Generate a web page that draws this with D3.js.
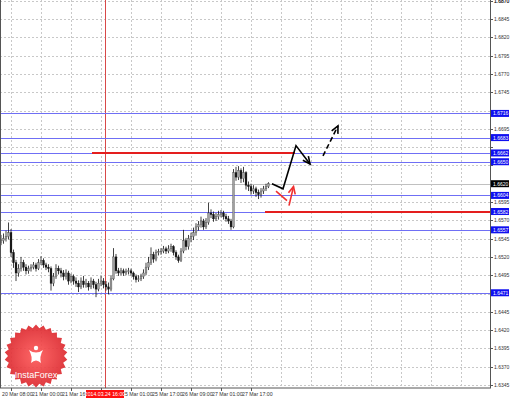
<!DOCTYPE html>
<html>
<head>
<meta charset="utf-8">
<script src="https://cdn.jsdelivr.net/npm/d3@7"></script>
<style>
  body { margin: 0; background: #fff; }
  svg { display: block; font-family: "Liberation Sans", Arial, sans-serif; }
</style>
</head>
<body>
<div id="chart"></div>
<script>
// GBPUSD H1 closes / highs / lows (open = previous close)
var firstOpen = 1.6540;
var closes = [1.6542,1.6545,1.6548,1.6553,1.6526,1.6512,1.6498,1.6504,1.6512,1.6506,
  1.6501,1.6504,1.6506,1.6509,1.6504,1.6512,1.6515,1.6509,1.6506,1.6504,
  1.6484,1.6493,1.6504,1.6501,1.6498,1.6493,1.6498,1.6487,1.6493,1.6487,
  1.6484,1.6479,1.6487,1.6482,1.6484,1.6479,1.6487,1.6482,1.6476,1.6484,
  1.6487,1.6482,1.6479,1.6476,1.6490,1.6520,1.6501,1.6498,1.6501,1.6498,
  1.6500,1.6501,1.6498,1.6493,1.6489,1.6490,1.6493,1.6498,1.6506,1.6512,
  1.6523,1.6517,1.6526,1.6527,1.6528,1.6531,1.6528,1.6531,1.6534,1.6526,
  1.6520,1.6515,1.6528,1.6542,1.6534,1.6545,1.6548,1.6553,1.6561,1.6564,
  1.6569,1.6561,1.6567,1.6580,1.6578,1.6572,1.6575,1.6578,1.6580,1.6575,
  1.6572,1.6569,1.6561,1.6635,1.6629,1.6638,1.6627,1.6635,1.6618,1.6616,
  1.6610,1.6613,1.6608,1.6605,1.6610,1.6613,1.6616,1.6620];
var highs = [1.6550,1.6552,1.6556,1.6567,1.6558,1.6530,1.6516,1.6510,1.6520,1.6516,
  1.6510,1.6508,1.6510,1.6513,1.6512,1.6517,1.6521,1.6518,1.6512,1.6510,
  1.6507,1.6498,1.6510,1.6508,1.6505,1.6502,1.6503,1.6501,1.6497,1.6496,
  1.6492,1.6488,1.6492,1.6494,1.6490,1.6487,1.6492,1.6490,1.6486,1.6490,
  1.6494,1.6491,1.6487,1.6485,1.6495,1.6532,1.6524,1.6505,1.6505,1.6504,
  1.6504,1.6505,1.6504,1.6500,1.6496,1.6495,1.6497,1.6503,1.6512,1.6520,
  1.6533,1.6527,1.6530,1.6531,1.6532,1.6535,1.6534,1.6536,1.6538,1.6536,
  1.6529,1.6523,1.6532,1.6557,1.6546,1.6550,1.6553,1.6560,1.6566,1.6569,
  1.6575,1.6572,1.6573,1.6594,1.6585,1.6582,1.6580,1.6583,1.6584,1.6583,
  1.6579,1.6576,1.6572,1.6640,1.6643,1.6644,1.6641,1.6643,1.6637,1.6623,
  1.6620,1.6618,1.6616,1.6612,1.6614,1.6617,1.6620,1.6622];
var lows = [1.6536,1.6538,1.6541,1.6544,1.6520,1.6505,1.6487,1.6493,1.6500,1.6501,
  1.6496,1.6497,1.6500,1.6503,1.6500,1.6502,1.6509,1.6505,1.6502,1.6499,
  1.6474,1.6480,1.6490,1.6496,1.6492,1.6488,1.6489,1.6482,1.6484,1.6482,
  1.6479,1.6472,1.6476,1.6478,1.6478,1.6474,1.6476,1.6477,1.6465,1.6473,
  1.6480,1.6477,1.6474,1.6469,1.6473,1.6488,1.6497,1.6494,1.6495,1.6494,
  1.6495,1.6496,1.6494,1.6489,1.6485,1.6486,1.6487,1.6490,1.6495,1.6502,
  1.6509,1.6512,1.6514,1.6522,1.6523,1.6525,1.6524,1.6525,1.6527,1.6522,
  1.6516,1.6512,1.6513,1.6525,1.6529,1.6530,1.6540,1.6543,1.6549,1.6556,
  1.6560,1.6557,1.6558,1.6564,1.6573,1.6568,1.6569,1.6571,1.6574,1.6571,
  1.6568,1.6565,1.6557,1.6559,1.6624,1.6625,1.6621,1.6622,1.6612,1.6610,
  1.6605,1.6606,1.6602,1.6599,1.6601,1.6606,1.6610,1.6614];

// price levels
var blueLevels = [1.6716, 1.6683, 1.6662, 1.6650, 1.6604, 1.6582, 1.6557, 1.6471];
var lastPrice = 1.6620;
var redLevels = [{price: 1.6662, from: 36.4, to: 117.6}, {price: 1.6582, from: 105.6, to: null}];

// time axis labels (bar index, text)
var timeIdx = [4, 16, 28, 40, 52, 64, 76, 88, 100];
var timeLabels = ["20 Mar 08:00","21 Mar 00:00","21 Mar 16:00","24 Mar 09:00","25 Mar 01:00",
  "25 Mar 17:00","26 Mar 09:00","27 Mar 01:00","27 Mar 17:00"];
var markerIdx = 41.6;
var markerLabel = "2014.03.24 16:00";

// forecast drawings [bar index, price]
var blackPath = [[108.4, 1.6620], [112.8, 1.6613], [118, 1.6672], [123.6, 1.6647]];
var blackDash = [[128.8, 1.6658], [134.8, 1.6699]];
var redTick = [[110, 1.6610], [114.4, 1.6597]];
var redArrow = [[115.2, 1.6590], [117, 1.6616]];

var W = 510, H = 399;
var plotR = 490, plotB = 388;

var svg = d3.select("#chart").append("svg").attr("width", W).attr("height", H);

var x = d3.scaleLinear().domain([0, 1]).range([1, 3.5]);
var y = d3.scaleLinear().domain([1.6345, 1.6845]).range([385, 19]);

var bars = closes.map(function(c, i){
  return {i: i, o: i == 0 ? firstOpen : closes[i-1], h: highs[i], l: lows[i], c: c};
});

// grid
var priceTicks = d3.range(0, 22).map(function(k){ return +(1.6345 + 0.0025*k).toFixed(4); });
var gridIdx = d3.range(0, 16).map(function(k){ return 4 + 12*k; });

svg.append("g").selectAll("line").data(priceTicks).enter().append("line")
  .attr("x1", 0).attr("x2", plotR)
  .attr("y1", function(d){ return Math.round(y(d)) + 0.5; })
  .attr("y2", function(d){ return Math.round(y(d)) + 0.5; })
  .attr("stroke", "#c8c8c8").attr("stroke-dasharray", "2,2");

svg.append("g").selectAll("line").data(gridIdx).enter().append("line")
  .attr("x1", function(d){ return Math.round(x(d)) + 0.5; })
  .attr("x2", function(d){ return Math.round(x(d)) + 0.5; })
  .attr("y1", 0).attr("y2", plotB)
  .attr("stroke", "#c8c8c8").attr("stroke-dasharray", "2,2");

// bid line
svg.append("line").attr("x1", 0).attr("x2", plotR)
  .attr("y1", Math.round(y(lastPrice)) + 0.5).attr("y2", Math.round(y(lastPrice)) + 0.5)
  .attr("stroke", "#c0c0c0");

// vertical marker
svg.append("line")
  .attr("x1", Math.round(x(markerIdx)) + 0.5).attr("x2", Math.round(x(markerIdx)) + 0.5)
  .attr("y1", 0).attr("y2", plotB)
  .attr("stroke", "#d84848").attr("stroke-width", 1);

// blue levels
svg.append("g").selectAll("line").data(blueLevels).enter().append("line")
  .attr("x1", 0).attr("x2", plotR)
  .attr("y1", function(d){ return Math.round(y(d)) + 0.5; })
  .attr("y2", function(d){ return Math.round(y(d)) + 0.5; })
  .attr("stroke", "#6f6ff5").attr("stroke-width", 1);

// red levels
svg.append("g").selectAll("line").data(redLevels).enter().append("line")
  .attr("x1", function(d){ return x(d.from); })
  .attr("x2", function(d){ return d.to == null ? plotR : x(d.to); })
  .attr("y1", function(d){ return Math.round(y(d.price)); })
  .attr("y2", function(d){ return Math.round(y(d.price)); })
  .attr("stroke", "#e41e1e").attr("stroke-width", 2);

// candles
var cg = svg.append("g");
cg.selectAll("line").data(bars).enter().append("line")
  .attr("x1", function(d){ return x(d.i); })
  .attr("x2", function(d){ return x(d.i); })
  .attr("y1", function(d){ return y(d.h); })
  .attr("y2", function(d){ return y(d.l); })
  .attr("stroke", "#111").attr("stroke-width", 0.8);

cg.selectAll("rect").data(bars).enter().append("rect")
  .attr("x", function(d){ return x(d.i) - 0.9; })
  .attr("width", 1.8)
  .attr("y", function(d){ return y(Math.max(d.o, d.c)); })
  .attr("height", function(d){ return Math.max(0.8, Math.abs(y(d.o) - y(d.c))); })
  .attr("fill", function(d){ return d.c >= d.o ? "#a0a0a0" : "#111"; })
  .attr("stroke", function(d){ return d.c >= d.o ? "#555" : "#111"; })
  .attr("stroke-width", 0.4);

// arrows
function pt(d){ return [x(d[0]), y(d[1])]; }
function head(g, a, b, color, len){
  var ang = Math.atan2(b[1] - a[1], b[0] - a[0]);
  var p1 = [b[0] - len*Math.cos(ang - 0.45), b[1] - len*Math.sin(ang - 0.45)];
  var p2 = [b[0] - len*Math.cos(ang + 0.45), b[1] - len*Math.sin(ang + 0.45)];
  g.append("path").attr("d", d3.line()([p1, b, p2]))
    .attr("fill", "none").attr("stroke", color).attr("stroke-width", 1.6);
}
var ag = svg.append("g");
var bp = blackPath.map(pt);
ag.append("path").attr("d", d3.line()(bp)).attr("fill", "none")
  .attr("stroke", "#000").attr("stroke-width", 1.6);
head(ag, bp[2], bp[3], "#000", 8);

var bd = blackDash.map(pt);
ag.append("path").attr("d", d3.line()(bd)).attr("fill", "none")
  .attr("stroke", "#000").attr("stroke-width", 1.6).attr("stroke-dasharray", "5,3");
head(ag, bd[0], bd[1], "#000", 8);

ag.append("path").attr("d", d3.line()(redTick.map(pt))).attr("fill", "none")
  .attr("stroke", "#f03030").attr("stroke-width", 1.6);
var ra = redArrow.map(pt);
ag.append("path").attr("d", d3.line()(ra)).attr("fill", "none")
  .attr("stroke", "#f03030").attr("stroke-width", 1.6);
head(ag, ra[0], ra[1], "#f03030", 8);

// frame
svg.append("rect").attr("x", 0.5).attr("y", -1).attr("width", plotR).attr("height", plotB + 1)
  .attr("fill", "none").attr("stroke", "#555");

// right axis (tick labels hidden where a level tag sits on top of them)
var tagPrices = blueLevels.concat([lastPrice]);
var axisTicks = priceTicks.concat([1.6870]).filter(function(d){
  return !tagPrices.some(function(p){ return Math.abs(y(p) - y(d)) < 6; });
});
var ra2 = svg.append("g");
ra2.selectAll("line").data(priceTicks.concat([1.6870])).enter().append("line")
  .attr("x1", plotR).attr("x2", plotR + 3)
  .attr("y1", function(d){ return Math.round(y(d)) + 0.5; })
  .attr("y2", function(d){ return Math.round(y(d)) + 0.5; })
  .attr("stroke", "#555");
ra2.selectAll("text").data(axisTicks).enter().append("text")
  .attr("x", plotR + 4).attr("y", function(d){ return y(d) + 2; })
  .attr("font-size", "5px").attr("fill", "#333")
  .text(function(d){ return d.toFixed(4); });

var tagData = blueLevels.map(function(p){ return {p: p, bg: "#1010f0"}; })
  .concat([{p: lastPrice, bg: "#000"}]);
var tags = svg.append("g").selectAll("g").data(tagData).enter().append("g");
tags.append("rect").attr("x", plotR + 1).attr("width", 18)
  .attr("y", function(d){ return y(d.p) - 3.5; }).attr("height", 7)
  .attr("fill", function(d){ return d.bg; });
tags.append("text").attr("x", plotR + 3).attr("y", function(d){ return y(d.p) + 2; })
  .attr("font-size", "5px").attr("fill", "#fff")
  .text(function(d){ return d.p.toFixed(4); });

// bottom axis (the label under the red marker box is hidden by it)
var ba = svg.append("g");
ba.selectAll("line").data(timeIdx).enter().append("line")
  .attr("x1", function(d){ return Math.round(x(d)) + 0.5; })
  .attr("x2", function(d){ return Math.round(x(d)) + 0.5; })
  .attr("y1", plotB).attr("y2", plotB + 3).attr("stroke", "#555");
ba.selectAll("text").data(timeIdx.filter(function(d){ return Math.abs(x(d) - x(markerIdx)) > 12; }))
  .enter().append("text")
  .attr("x", function(d){ return x(d) - 9; }).attr("y", plotB + 8)
  .attr("font-size", "5.2px").attr("fill", "#333")
  .text(function(d){ return timeLabels[timeIdx.indexOf(d)]; });
ba.append("rect").attr("x", x(markerIdx) - 19).attr("y", plotB + 2)
  .attr("width", 38).attr("height", 8).attr("fill", "#ff1010");
ba.append("text").attr("x", x(markerIdx)).attr("y", plotB + 8)
  .attr("text-anchor", "middle").attr("font-size", "5.2px").attr("fill", "#fff")
  .text(markerLabel);

// InstaForex badge
var defs = svg.append("defs");
var grad = defs.append("radialGradient").attr("id", "badge");
grad.append("stop").attr("offset", "0%").attr("stop-color", "#ff5a5a");
grad.append("stop").attr("offset", "100%").attr("stop-color", "#dc2a30");
var cx = 36, cy = 356, teeth = 26;
var star = d3.range(teeth * 2).map(function(k){
  var a = k * Math.PI / teeth, r = k % 2 ? 28 : 31.5;
  return [cx + r*Math.sin(a), cy - r*Math.cos(a)];
});
var logo = svg.append("g").attr("opacity", 0.92);
logo.append("path").attr("d", d3.line().curve(d3.curveLinearClosed)(star)).attr("fill", "url(#badge)");
logo.append("circle").attr("cx", cx).attr("cy", cy - 8).attr("r", 2.2).attr("fill", "#fff");
logo.append("path").attr("d",
  "M" + (cx-7) + "," + (cy-6) + " Q" + cx + "," + (cy-1) + " " + (cx+7) + "," + (cy-6) +
  " Q" + (cx+3) + "," + (cy+1) + " " + (cx+5) + "," + (cy+7) +
  " Q" + cx + "," + (cy+2) + " " + (cx-5) + "," + (cy+7) +
  " Q" + (cx-3) + "," + (cy+1) + " " + (cx-7) + "," + (cy-6) + "Z")
  .attr("fill", "#fff");
logo.append("text").attr("x", cx).attr("y", cy + 22).attr("text-anchor", "middle")
  .attr("font-size", "9px").attr("fill", "#fff").text("InstaForex");
</script>
</body>
</html>
